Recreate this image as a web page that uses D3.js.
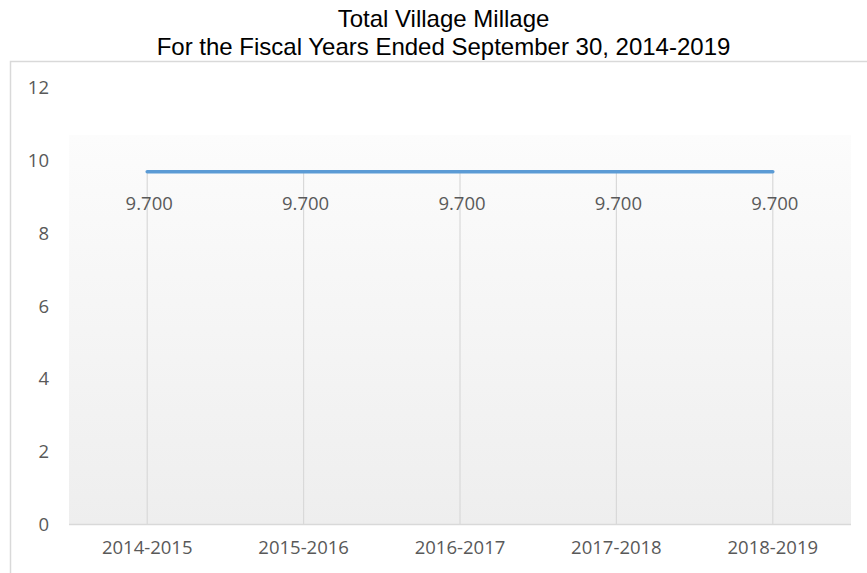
<!DOCTYPE html>
<html>
<head>
<meta charset="utf-8">
<script src="https://cdn.jsdelivr.net/npm/d3@7"></script>
<style>
  html, body { margin: 0; padding: 0; background: #fff; }
  svg { display: block; }
</style>
</head>
<body>
<svg id="chart" width="867" height="573"></svg>
<script>
const titleLines = ["Total Village Millage", "For the Fiscal Years Ended September 30, 2014-2019"];
const categories = ["2014-2015", "2015-2016", "2016-2017", "2017-2018", "2018-2019"];
const millage = [9.7, 9.7, 9.7, 9.7, 9.7];
const yTicks = [0, 2, 4, 6, 8, 10, 12];

const svg = d3.select("#chart");
const W = 867, H = 573;
const plot = { left: 69, right: 851, top: 88, bottom: 524.5 };

const x = d3.scaleBand().domain(categories).range([plot.left, plot.right]);
const y = d3.scaleLinear().domain([0, 12]).range([plot.bottom, plot.top]);
const cx = d => x(d) + x.bandwidth() / 2;

// gradient
const defs = svg.append("defs");
const grad = defs.append("linearGradient").attr("id", "bg").attr("x1", 0).attr("y1", 0).attr("x2", 0).attr("y2", 1);
grad.append("stop").attr("offset", "0%").attr("stop-color", "#fcfcfc");
grad.append("stop").attr("offset", "100%").attr("stop-color", "#eeeeee");

// outer border
svg.append("rect").attr("x", 10.5).attr("y", 61.5).attr("width", W + 20).attr("height", H + 20)
  .attr("fill", "none").attr("stroke", "#d9d9d9").attr("stroke-width", 1.5);

// title
const title = svg.append("text").attr("text-anchor", "middle")
  .attr("font-family", "'Liberation Sans', Arial, sans-serif").attr("font-size", 24).attr("fill", "#000");
titleLines.forEach((t, i) => title.append("tspan").attr("x", 443.5).attr("y", 27 + i * 28).text(t));

// plot background
const gradTop = 135;
svg.append("rect").attr("x", plot.left).attr("y", gradTop)
  .attr("width", plot.right - plot.left).attr("height", plot.bottom - gradTop).attr("fill", "url(#bg)");

// drop lines
svg.append("g").selectAll("line").data(categories).join("line")
  .attr("x1", d => cx(d)).attr("x2", d => cx(d))
  .attr("y1", (d, i) => y(millage[i])).attr("y2", plot.bottom)
  .attr("stroke", "#d9d9d9").attr("stroke-width", 1.2);

// baseline
svg.append("line").attr("x1", plot.left).attr("x2", plot.right).attr("y1", plot.bottom).attr("y2", plot.bottom)
  .attr("stroke", "#d9d9d9").attr("stroke-width", 1.5);

// y axis
const fontFam = "'Open Sans', 'Noto Sans', sans-serif";
const fs = 18.5;
const yAxis = svg.append("g").attr("transform", `translate(${plot.left - 20},0)`)
  .call(d3.axisLeft(y).tickValues(yTicks).tickSize(0).tickPadding(0).tickFormat(d3.format("d")));
yAxis.select(".domain").remove();
yAxis.selectAll("text").attr("font-family", fontFam).attr("font-size", fs).attr("fill", "#595959");

// x axis
const xAxis = svg.append("g").attr("transform", `translate(0,${plot.bottom})`)
  .call(d3.axisBottom(x).tickSize(0).tickPadding(16));
xAxis.select(".domain").remove();
xAxis.selectAll("text").attr("font-family", fontFam).attr("font-size", fs).attr("fill", "#595959");

// line
const line = d3.line().x((d, i) => cx(categories[i])).y(d => y(d));
svg.append("path").datum(millage).attr("d", line)
  .attr("fill", "none").attr("stroke", "#5b9bd5").attr("stroke-width", 3.5).attr("stroke-linecap", "round");

// data labels
svg.append("g").selectAll("text").data(millage).join("text")
  .attr("x", (d, i) => cx(categories[i]) + 2).attr("y", d => y(d) + 38)
  .attr("text-anchor", "middle").attr("font-family", fontFam).attr("font-size", fs).attr("fill", "#595959")
  .text(d => d3.format(".3f")(d));
</script>
</body>
</html>
